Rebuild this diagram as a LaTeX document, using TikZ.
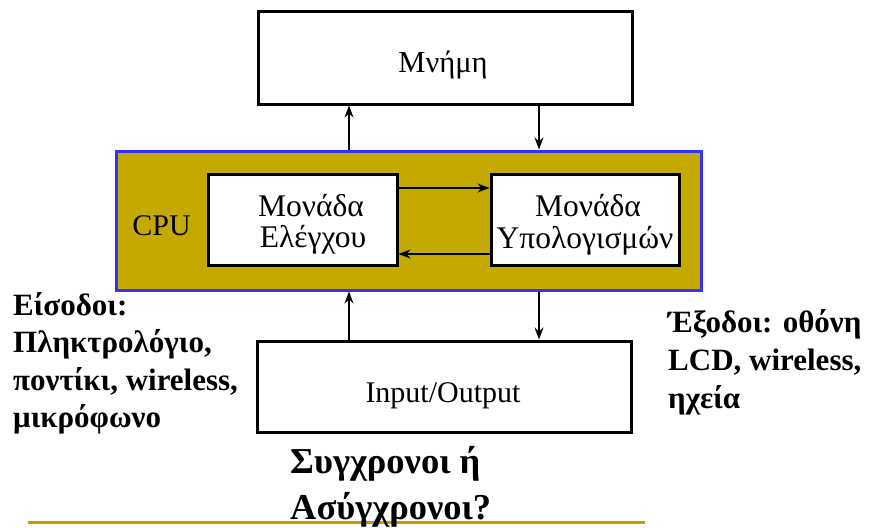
\documentclass[tikz,border=0pt]{standalone}
\usepackage{fontspec}
\setmainfont{Liberation Serif}
\usetikzlibrary{arrows.meta}
\definecolor{cpufill}{RGB}{196,170,0}
\definecolor{cpublue}{RGB}{51,51,255}
\definecolor{goldline}{RGB}{204,153,0}
\begin{document}
\begin{tikzpicture}[x=1pt,y=-1pt,
  box/.style={draw=black,line width=3pt,fill=white,inner sep=0pt},
  arr/.style={line width=1.4pt,-{Stealth[length=12pt,width=9pt]}},
  boxtxt/.style={font=\fontsize{31.5}{33}\selectfont,anchor=base,inner sep=0pt},
  lbl/.style={font=\fontsize{31}{37}\selectfont\bfseries,anchor=base west,inner sep=0pt},
  biglbl/.style={font=\fontsize{36.5}{46}\selectfont\bfseries,anchor=base west,inner sep=0pt},
]
\useasboundingbox (0,0) rectangle (872,527);
% boxes
\node[box,minimum width=374pt,minimum height=92pt] (mem) at (445,58) {};
\node[draw=cpublue,fill=cpufill,line width=3pt,inner sep=0pt,minimum width=585pt,minimum height=139pt] (cpu) at (408.5,220.5) {};
\node[box,minimum width=189pt,minimum height=91pt] (ctrl) at (302.5,219.5) {};
\node[box,minimum width=188pt,minimum height=91pt] (alu) at (585,219.5) {};
\node[box,minimum width=374pt,minimum height=91pt] (io) at (444,386.5) {};
% texts
\node[boxtxt,font=\fontsize{30.5}{33}\selectfont] (memt) at (443,73) {Μνήμη};
\node[boxtxt,font=\fontsize{30}{32}\selectfont,anchor=base east] (cput) at (191,235) {CPU};
\node[boxtxt] (ctrl1) at (311,216) {Μονάδα};
\node[boxtxt] (ctrl2) at (313,247) {Ελέγχου};
\node[boxtxt] (alu1) at (588,216) {Μονάδα};
\node[boxtxt] (alu2) at (585,248) {Υπολογισμών};
\node[boxtxt,font=\fontsize{30}{32}\selectfont] (iot) at (443,402) {Input/Output};
% connectors
\coordinate (xa) at (349,0);
\coordinate (xb) at (539,0);
\draw[arr] (cpu.north -| xa) -- (mem.south -| xa);
\draw[arr] (mem.south -| xb) -- (cpu.north -| xb);
\draw[arr] (io.north -| xa) -- (cpu.south -| xa);
\draw[arr] (cpu.south -| xb) -- (io.north -| xb);
\coordinate (ya) at (0,188);
\coordinate (yb) at (0,254);
\draw[arr] (ctrl.east |- ya) -- (alu.west |- ya);
\draw[arr] (alu.west |- yb) -- (ctrl.east |- yb);
% side labels
\node[lbl] (in1) at (13,315) {Είσοδοι:};
\node[lbl] (in2) at (13,352) {Πληκτρολόγιο,};
\node[lbl] (in3) at (13,390) {ποντίκι, wireless,};
\node[lbl] (in4) at (13,427) {μικρόφωνο};
\node[lbl] (out1) at (668,332) {Έξοδοι: οθόνη};
\node[lbl] (out2) at (668,370) {LCD, wireless,};
\node[lbl] (out3) at (668,408) {ηχεία};
% bottom rule and question
\coordinate (la) at (28,522);
\coordinate (lb) at (645,522);
\draw[goldline,line width=3pt] (la) -- (lb);
\node[biglbl] (q1) at (290,473) {Συγχρονοι ή};
\node[biglbl] (q2) at (290,519) {Ασύγχρονοι?};
\end{tikzpicture}
\end{document}
